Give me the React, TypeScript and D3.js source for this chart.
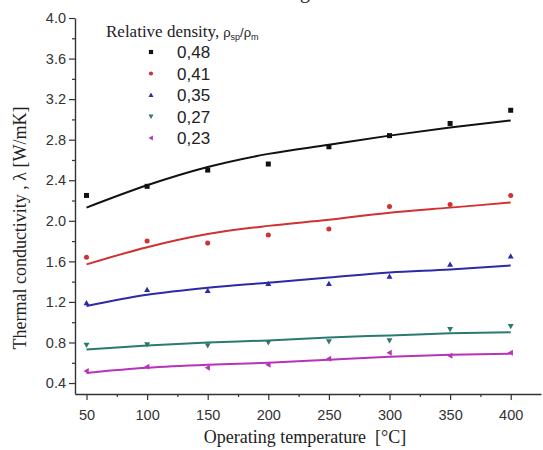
import { useEffect, useRef } from "react";
import * as d3 from "d3";

const temps = [50, 100, 150, 200, 250, 300, 350, 400];
const densities = ["0,48", "0,41", "0,35", "0,27", "0,23"];
const colors = ["#111111", "#d03232", "#2b2ba6", "#2a7a70", "#b733b7"];
const shapes = ["square", "circle", "triangle", "down", "left"];

// measured points
const pts48 = [2.25, 2.34, 2.5, 2.56, 2.73, 2.84, 2.96, 3.09];
const pts41 = [1.64, 1.8, 1.78, 1.86, 1.92, 2.14, 2.16, 2.25];
const pts35 = [1.19, 1.32, 1.31, 1.38, 1.38, 1.45, 1.57, 1.65];
const pts27 = [0.775, 0.78, 0.77, 0.8, 0.81, 0.82, 0.93, 0.96];
const pts23 = [0.52, 0.56, 0.55, 0.58, 0.64, 0.7, 0.67, 0.7];

// fit curves read at the same temperatures
const fit48 = [2.13, 2.35, 2.53, 2.66, 2.75, 2.84, 2.92, 2.99];
const fit41 = [1.57, 1.74, 1.87, 1.95, 2.01, 2.08, 2.13, 2.18];
const fit35 = [1.16, 1.27, 1.34, 1.39, 1.44, 1.49, 1.52, 1.56];
const fit27 = [0.73, 0.77, 0.8, 0.82, 0.85, 0.87, 0.89, 0.9];
const fit23 = [0.5, 0.55, 0.58, 0.6, 0.63, 0.66, 0.68, 0.69];

const points = [pts48, pts41, pts35, pts27, pts23];
const fits = [fit48, fit41, fit35, fit27, fit23];

const yMajor = [0.4, 0.8, 1.2, 1.6, 2.0, 2.4, 2.8, 3.2, 3.6, 4.0];

function marker(shape, size) {
  const s = size;
  if (shape === "square") return `M${-s / 2},${-s / 2}h${s}v${s}h${-s}Z`;
  if (shape === "circle") return d3.symbol(d3.symbolCircle, s * s * 0.8)();
  if (shape === "triangle") return `M0,${-s * 0.6}L${s * 0.6},${s * 0.45}L${-s * 0.6},${s * 0.45}Z`;
  if (shape === "down") return `M0,${s * 0.6}L${s * 0.6},${-s * 0.45}L${-s * 0.6},${-s * 0.45}Z`;
  return `M${-s * 0.6},0L${s * 0.45},${s * 0.6}L${s * 0.45},${-s * 0.6}Z`;
}

function Chart() {
  const width = 543;
  const height = 450;
  const svgRef = useRef(null);

  const x = d3.scaleLinear().domain([40.5, 425]).range([75, 541]);
  const y = d3.scaleLinear().domain([0.292, 4.0]).range([394, 18]);

  useEffect(() => {
    const svg = d3.select(svgRef.current);

    const xAxis = d3.axisBottom(x).tickValues(temps).tickFormat(d3.format("d")).tickSize(6).tickSizeOuter(0);
    const gx = svg.select(".x-axis").attr("transform", "translate(0,394)").call(xAxis);
    gx.select(".domain").attr("stroke", "#333").attr("stroke-width", 1.4);
    gx.selectAll(".tick line").attr("stroke", "#333").attr("stroke-width", 1.2);
    gx.selectAll("text")
      .attr("font-family", "Liberation Sans, Arial, sans-serif")
      .attr("font-size", 14.5)
      .attr("fill", "#333")
      .attr("dy", "1.15em");

    const xMinor = d3.axisBottom(x).tickValues([75, 125, 175, 225, 275, 325, 375]).tickSize(3).tickFormat(() => "");
    svg.select(".x-minor").attr("transform", "translate(0,394)").call(xMinor)
      .call((g) => g.select(".domain").remove())
      .selectAll(".tick line").attr("stroke", "#333").attr("stroke-width", 1.2);

    const yAxis = d3.axisLeft(y).tickValues(yMajor).tickFormat(d3.format(".1f")).tickSize(6).tickSizeOuter(0);
    const gy = svg.select(".y-axis").attr("transform", "translate(75,0)").call(yAxis);
    gy.select(".domain").attr("stroke", "#333").attr("stroke-width", 1.4);
    gy.selectAll(".tick line").attr("stroke", "#333").attr("stroke-width", 1.2);
    gy.selectAll("text")
      .attr("font-family", "Liberation Sans, Arial, sans-serif")
      .attr("font-size", 14.5)
      .attr("fill", "#333")
      .attr("x", -9);

    const yMinor = d3.axisLeft(y).tickValues([0.6, 1.0, 1.4, 1.8, 2.2, 2.6, 3.0, 3.4, 3.8]).tickSize(3).tickFormat(() => "");
    svg.select(".y-minor").attr("transform", "translate(75,0)").call(yMinor)
      .call((g) => g.select(".domain").remove())
      .selectAll(".tick line").attr("stroke", "#333").attr("stroke-width", 1.2);
  }, []);

  const lineGen = d3
    .line()
    .x((d, i) => x(temps[i]))
    .y((d) => y(d))
    .curve(d3.curveMonotoneX);

  return (
    <svg ref={svgRef} width={width} height={height} style={{ display: "block", position: "absolute", left: 0, top: 0, background: "#fff" }}>
      <text x={300} y={-2} fontFamily="Liberation Serif, serif" fontSize={20} fill="#222">g</text>
      <g className="x-minor" />
      <g className="y-minor" />
      <g className="x-axis" />
      <g className="y-axis" />
      {fits.map((f, k) => (
        <path key={"f" + k} d={lineGen(f)} fill="none" stroke={colors[k]} strokeWidth={2} />
      ))}
      {points.map((p, k) =>
        p.map((v, i) => (
          <path key={k + "-" + i} d={marker(shapes[k], 5)} transform={`translate(${x(temps[i])},${y(v)})`} fill={colors[k]} />
        ))
      )}
      <text x={106} y={37} fontFamily="Liberation Serif, serif" fontSize={17} fill="#222">
        Relative density,
        <tspan fontFamily="Liberation Sans, Arial, sans-serif" fontSize={13} dx={4}>ρ</tspan>
        <tspan fontFamily="Liberation Sans, Arial, sans-serif" fontSize={9} dy={3}>sp</tspan>
        <tspan fontFamily="Liberation Sans, Arial, sans-serif" fontSize={13} dy={-3}>/ρ</tspan>
        <tspan fontFamily="Liberation Sans, Arial, sans-serif" fontSize={9} dy={3}>m</tspan>
      </text>
      {densities.map((d, k) => (
        <g key={d} transform={`translate(0,${52 + k * 21.5})`}>
          <path d={marker(shapes[k], 4.2)} transform="translate(151,0)" fill={colors[k]} />
          <text x={177} y={6} fontFamily="Liberation Sans, Arial, sans-serif" fontSize={17} fill="#222">{d}</text>
        </g>
      ))}
      <text x={305} y={443} textAnchor="middle" fontFamily="Liberation Serif, serif" fontSize={18} fill="#222">
        {"Operating temperature\u00a0 [°C]"}
      </text>
      <text transform="translate(26,228) rotate(-90)" textAnchor="middle" fontFamily="Liberation Serif, serif" fontSize={18} fill="#222">
        Thermal conductivity , λ [W/mK]
      </text>
    </svg>
  );
}

export default function App() {
  return <Chart />;
}
